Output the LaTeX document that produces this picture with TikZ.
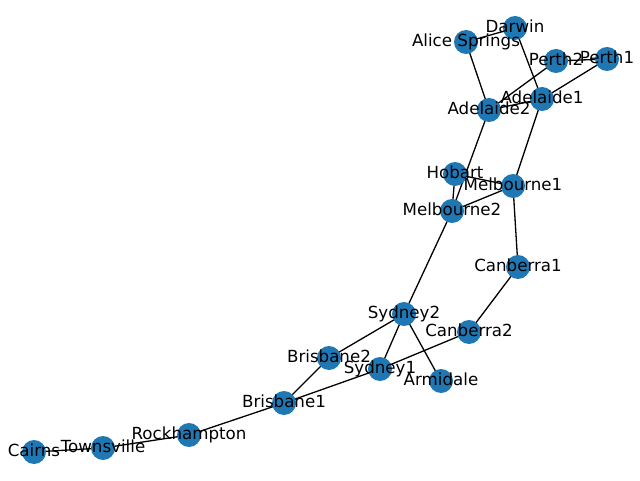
\documentclass[tikz,border=0pt]{standalone}
\usepackage{fontspec}
\setmainfont{DejaVu Sans}
\definecolor{nodeblue}{HTML}{1F77B4}
\begin{document}
\begin{tikzpicture}[x=1pt,y=1pt,
  vert/.style={circle,fill=nodeblue,draw=none,minimum size=24pt,inner sep=0pt},
  lab/.style={anchor=base,inner sep=0pt,font=\fontsize{16.67}{20}\selectfont},
  edge/.style={draw=black,line width=1.3pt}]
\useasboundingbox[fill=white] (0,0) rectangle (640,480);
% positions (pixel coords, y flipped)
\foreach \n/\x/\y in {
  Cairns/34/452, Townsville/103/448, Rockhampton/189/435, Brisbane1/284/403,
  Brisbane2/329/358, Sydney1/380/369, Sydney2/404/314, Armidale/441/381,
  Canberra2/469/332, Canberra1/518/267, Melbourne2/452/211, Melbourne1/513/186,
  Hobart/455/174, Adelaide2/489/110, Adelaide1/542/99, Perth2/556/61,
  Perth1/607/59, AliceSprings/466/42, Darwin/515/28}
  {\coordinate (\n) at (\x,480-\y);}
% edges
\foreach \a/\b in {Cairns/Townsville, Townsville/Rockhampton, Rockhampton/Brisbane1,
  Brisbane1/Brisbane2, Brisbane1/Sydney1, Sydney1/Canberra2, Brisbane2/Sydney2,
  Sydney2/Sydney1, Sydney2/Armidale, Sydney2/Melbourne2, Canberra2/Canberra1,
  Canberra1/Melbourne1, Melbourne1/Melbourne2, Melbourne1/Hobart, Melbourne2/Hobart,
  Melbourne2/Adelaide2, Melbourne1/Adelaide1, Adelaide1/Adelaide2,
  Adelaide2/AliceSprings, Adelaide2/Perth2, Adelaide1/Perth1, Adelaide1/Darwin,
  Darwin/AliceSprings, Perth1/Perth2}
  {\draw[edge] (\a) -- (\b);}
% nodes
\foreach \n in {Cairns, Townsville, Rockhampton, Brisbane1, Brisbane2, Sydney1,
  Sydney2, Armidale, Canberra2, Canberra1, Melbourne2, Melbourne1, Hobart,
  Adelaide2, Adelaide1, Perth2, Perth1, AliceSprings, Darwin}
  {\node[vert] (v\n) at (\n) {};}
% labels
\foreach \n/\t in {Cairns/Cairns, Townsville/Townsville, Rockhampton/Rockhampton,
  Brisbane1/Brisbane1, Brisbane2/Brisbane2, Sydney1/Sydney1, Sydney2/Sydney2,
  Armidale/Armidale, Canberra2/Canberra2, Canberra1/Canberra1,
  Melbourne2/Melbourne2, Melbourne1/Melbourne1, Hobart/Hobart,
  Adelaide2/Adelaide2, Adelaide1/Adelaide1, Perth2/Perth2, Perth1/Perth1,
  AliceSprings/Alice Springs, Darwin/Darwin}
  {\node[lab] (l\n) at ([yshift=-4.8pt]\n) {\t};}
\end{tikzpicture}
\end{document}
